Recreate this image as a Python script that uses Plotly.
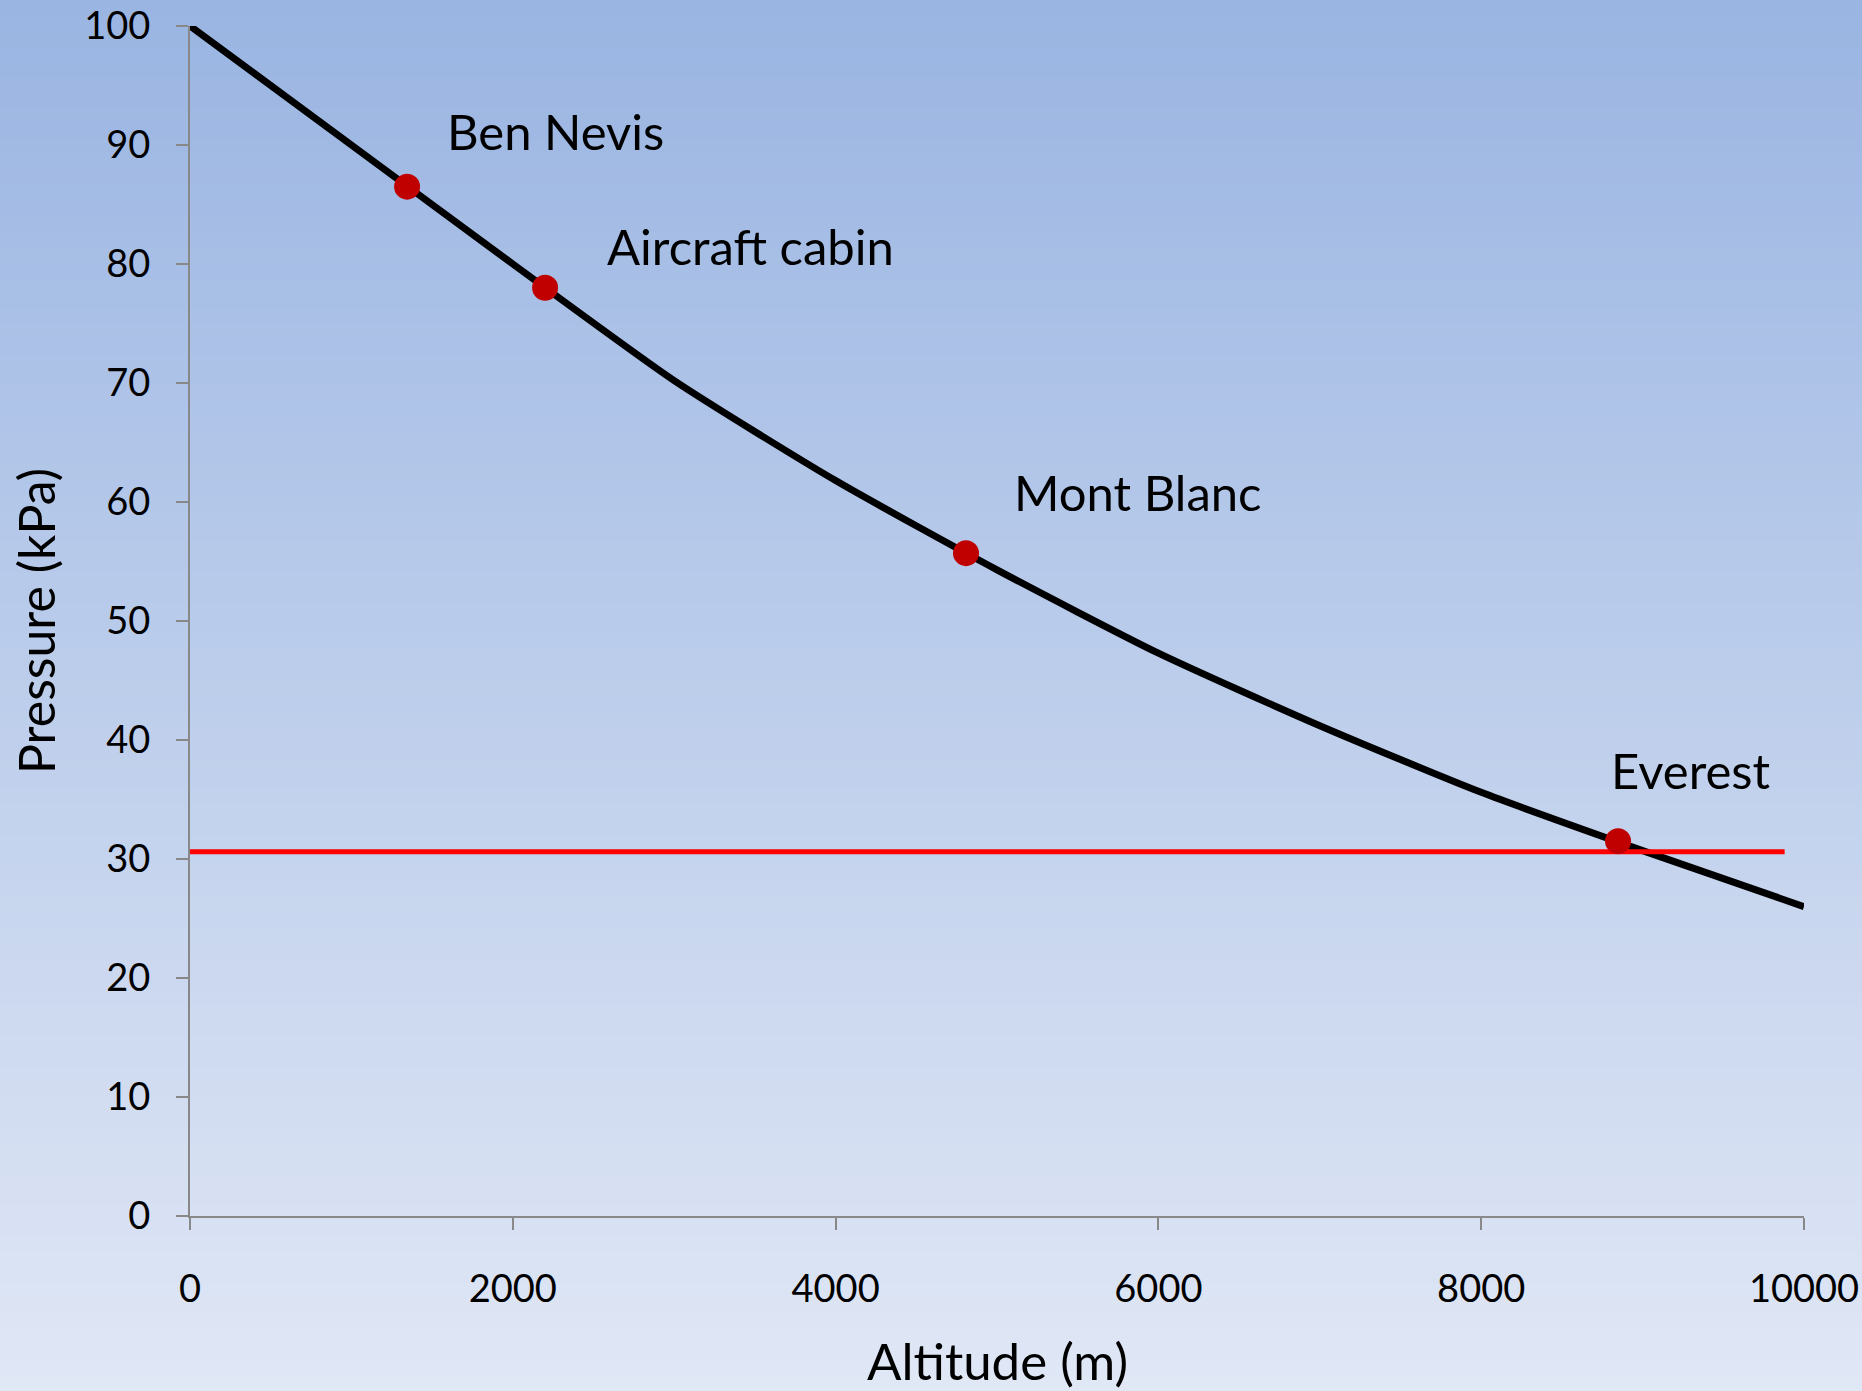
import plotly.graph_objects as go

# ---- data ----
altitude_m = [0, 1000, 2000, 3000, 4000, 5000, 6000, 7000, 8000, 9000, 10000]
pressure_kpa = [100, 90, 80, 70.2, 61.8, 54.3, 47.3, 41.2, 35.6, 30.7, 26.0]

place_names = ["Ben Nevis", "Aircraft cabin", "Mont Blanc", "Everest"]
place_altitude = [1345, 2200, 4808, 8848]
place_pressure = [86.5, 78.0, 55.7, 31.5]

limit_x = [-50, 9880]
limit_pressure = [30.6, 30.6]

x_ticks = [0, 2000, 4000, 6000, 8000, 10000]
x_tick_labels = ["0", "2000", "4000", "6000", "8000", "10000"]
y_ticks = [0, 10, 20, 30, 40, 50, 60, 70, 80, 90, 100]
y_tick_labels = ["0", "10", "20", "30", "40", "50", "60", "70", "80", "90", "100"]

# label anchor positions (layout)
label_x = [1580, 2570, 5090, 8790]
label_y = [91.2, 81.5, 60.8, 37.5]

W, H = 1862, 1391
FONT = "Lato"

fig = go.Figure()

fig.add_trace(go.Scatter(
    x=altitude_m, y=pressure_kpa, mode="lines",
    line=dict(color="black", width=7, shape="spline", smoothing=0.6),
    showlegend=False, hoverinfo="skip"))

fig.add_trace(go.Scatter(
    x=limit_x, y=limit_pressure, mode="lines",
    line=dict(color="#FF0000", width=5),
    showlegend=False, hoverinfo="skip"))

fig.add_trace(go.Scatter(
    x=place_altitude, y=place_pressure, mode="markers",
    marker=dict(color="#C00000", size=26, line=dict(width=0)),
    cliponaxis=False, showlegend=False, text=place_names))

# gradient background bands
top = (154, 181, 226)
bot = (224, 231, 245)
n = 90
shapes = []
for i in range(n):
    t = i / (n - 1)
    c = tuple(round(top[k] + (bot[k] - top[k]) * t) for k in range(3))
    y1 = 1 - i / n
    y0 = 1 - (i + 1) / n
    shapes.append(dict(type="rect", xref="paper", yref="paper",
                       x0=-0.01, x1=1.01, y0=y0 - 0.002, y1=y1 + (0.01 if i == 0 else 0),
                       fillcolor="rgb(%d,%d,%d)" % c, line=dict(width=0),
                       layer="below"))

annotations = []
for name, lx, ly in zip(place_names, label_x, label_y):
    annotations.append(dict(x=lx, y=ly, xref="x", yref="y", text=name,
                            showarrow=False, xanchor="left", yanchor="middle",
                            font=dict(family=FONT, size=49, color="black")))

annotations.append(dict(x=997 / W, y=1 - 1360 / H, xref="paper", yref="paper",
                        text="Altitude (m)", showarrow=False,
                        xanchor="center", yanchor="middle",
                        font=dict(family=FONT, size=51, color="black")))
annotations.append(dict(x=36 / W, y=1 - 621 / H, xref="paper", yref="paper",
                        text="Pressure (kPa)", showarrow=False, textangle=-90,
                        xanchor="center", yanchor="middle",
                        font=dict(family=FONT, size=50, color="black")))

axis_common = dict(showgrid=False, zeroline=False, showline=True,
                   automargin=False,
                   linecolor="#888888", linewidth=2, ticks="outside",
                   tickcolor="#888888", tickwidth=2, ticklen=12,
                   tickfont=dict(family=FONT, size=38, color="black"))

fig.update_layout(
    width=W, height=H,
    margin=dict(l=0, r=0, t=0, b=0, autoexpand=False),
    paper_bgcolor="rgb(190,205,235)",
    plot_bgcolor="rgba(0,0,0,0)",
    shapes=shapes,
    annotations=annotations,
    xaxis=dict(range=[0, 10000], domain=[190 / W, 1804 / W],
               tickvals=x_ticks, ticktext=x_tick_labels,
               ticklabelstandoff=26, **axis_common),
    yaxis=dict(range=[0, 100], domain=[1 - 1216 / H, 1 - 26 / H],
               tickvals=y_ticks, ticktext=y_tick_labels,
               ticklabelstandoff=18, **axis_common),
)

fig.write_html(
    "out.html",
    config={"displayModeBar": False},
    post_script="document.body.style.margin='0px';document.body.style.overflow='hidden';",
)
